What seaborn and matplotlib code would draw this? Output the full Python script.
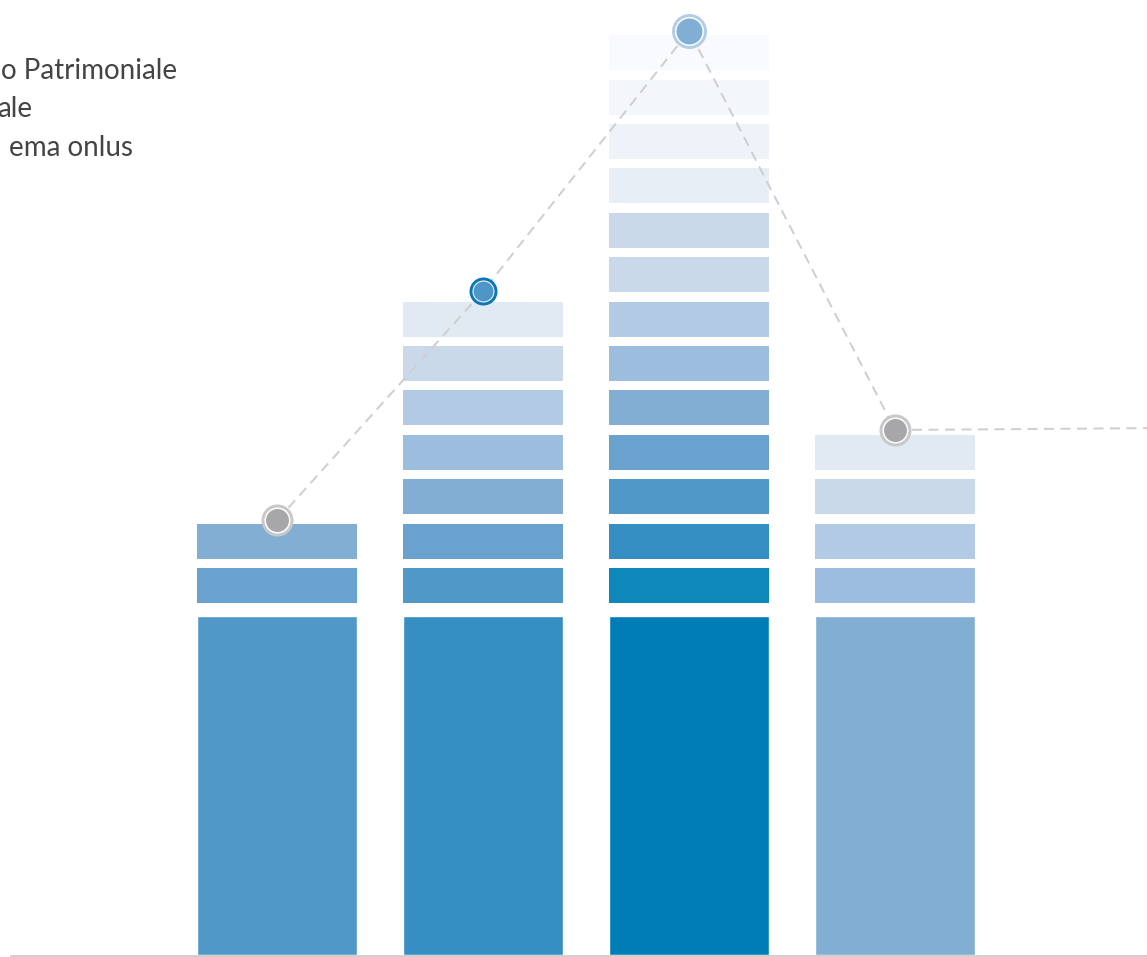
import matplotlib
matplotlib.use("Agg")
import matplotlib.pyplot as plt
import seaborn as sns
import numpy as np

# ---------------- data ----------------
categories = ["A", "B", "C", "D"]
base_values = [339, 339, 339, 339]          # height of the solid lower block
segment_counts = [2, 7, 13, 4]              # number of stacked small blocks
line_values = [435, 664, 924, 525]          # heights of the marker points
legend_labels = ["o Patrimoniale", "ale", "ema onlus"]

base_colors = ["#5098c8", "#358fc3", "#007db7", "#83aed4"]
segment_colors = [
    ["#6aa2cf", "#83aed4"],
    ["#5098c8", "#6aa2cf", "#83aed4", "#9dbddf", "#b2cae3", "#cad9ea", "#e1e9f3"],
    ["#0e87bb", "#358fc3", "#5098c8", "#6aa2cf", "#83aed4", "#9dbddf", "#b2cae3",
     "#cad9ea", "#cad9ea", "#e7eef6", "#eef3f9", "#f3f6fb", "#f9fafd"],
    ["#9dbddf", "#b2cae3", "#cad9ea", "#e1e9f3"],
]
marker_fill = ["#a7a7aa", "#4f96c8", "#80aed4", "#a7a7aa"]
marker_ring = ["#c8c8c9", "#0b78b5", "#b4cde6", "#c8c8c9"]
marker_outer_px = [32, 28, 35, 32]
marker_inner_px = [23, 20, 26, 23]

# ---------------- style ----------------
W, H, DPI = 1147, 957, 100
sns.set_theme(style="white")
plt.rcParams["font.family"] = ["Lato", "DejaVu Sans"]
plt.rcParams["lines.scale_dashes"] = False
PX = 72.0 / DPI  # points per pixel

fig = plt.figure(figsize=(W / DPI, H / DPI), dpi=DPI)
ax = fig.add_axes([0, 0, 1, 1])

bar_w = 160 / 205.9
seg_h = 35
first_gap = 13
pitch = 44.4

sns.barplot(x=categories, y=base_values, hue=categories, palette=base_colors,
            width=bar_w, legend=False, ax=ax, saturation=1, zorder=1)

for i, (n, cols) in enumerate(zip(segment_counts, segment_colors)):
    for k in range(n):
        bottom = base_values[i] + first_gap + k * pitch
        ax.bar(i, seg_h, bottom=bottom, width=bar_w, color=cols[k],
               linewidth=0, zorder=1)

x0 = -277.4 / 205.9
x1 = (W - 277.4) / 205.9
ax.set_xlim(x0, x1)
ax.set_ylim(-2, 955)

# dashed connecting line, running on to the right edge
xs = list(range(len(line_values))) + [x1 + 0.1]
ys = line_values + [line_values[-1] + 2]
ax.plot(xs, ys, color="#cfcfcf", lw=2 * PX, dashes=(10 * PX, 6.5 * PX), zorder=3)

# markers: ring, white gap, fill
for i, v in enumerate(line_values):
    ring_w = 3
    ax.plot(i, v, "o", ms=(marker_outer_px[i] - ring_w) * PX, mfc="white",
            mec=marker_ring[i], mew=ring_w * PX, zorder=4)
    ax.plot(i, v, "o", ms=marker_inner_px[i] * PX, mfc=marker_fill[i],
            mec="none", zorder=5)

# baseline
ax.axhline(-0.5, xmin=11 / W, xmax=1, color="#d0d0d0", lw=3 * PX, zorder=2)

ax.set_axis_off()

# partially visible legend text at the top left
right_edges = [177, 32, 133]
baselines = [79, 117, 156]
for lab, xr, yb in zip(legend_labels, right_edges, baselines):
    fig.text(xr / W, 1 - yb / H, lab, ha="right", va="baseline",
             fontsize=20, color="#444444", fontweight="normal")

fig.savefig("out.png", dpi=DPI)
